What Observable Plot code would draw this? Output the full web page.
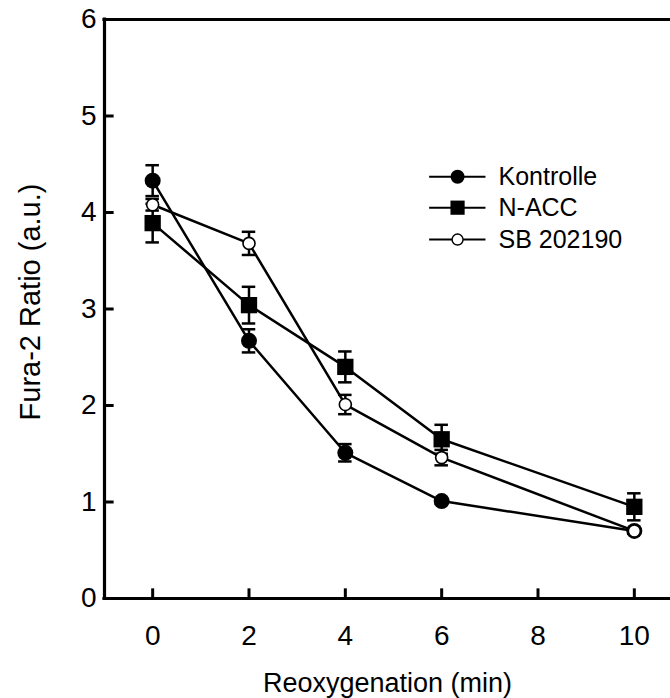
<!DOCTYPE html>
<html>
<head>
<meta charset="utf-8">
<script src="https://cdn.jsdelivr.net/npm/d3@7"></script>
<script src="https://cdn.jsdelivr.net/npm/@observablehq/plot@0.6"></script>
<style>
  html, body { margin: 0; padding: 0; background: #fff; overflow: hidden; }
  #chart svg { display: block; }
</style>
</head>
<body>
<div id="chart"></div>
<script>
// ---- data ----
const times = [0, 2, 4, 6, 10];
const seriesNames = ["Kontrolle", "N-ACC", "SB 202190"];
const kontrolle = [4.33, 2.67, 1.51, 1.01, 0.70];
const kontrolleErr = [0.16, 0.12, 0.09, 0.03, 0.02];
const nacc = [3.89, 3.04, 2.40, 1.65, 0.95];
const naccErr = [0.20, 0.19, 0.16, 0.15, 0.14];
const sb = [4.08, 3.68, 2.01, 1.46, 0.70];
const sbErr = [0.06, 0.12, 0.10, 0.08, 0.03];
const xTicks = [0, 2, 4, 6, 8, 10];
const yTicks = [0, 1, 2, 3, 4, 5, 6];
const xLabel = "Reoxygenation (min)";
const yLabel = "Fura-2 Ratio (a.u.)";

const values = [kontrolle, nacc, sb];
const errs = [kontrolleErr, naccErr, sbErr];
const rows = seriesNames.flatMap((s, i) =>
  times.map((t, j) => ({series: s, x: t, v: values[i][j], e: errs[i][j]})));

// marker styles per series
const style = {
  "Kontrolle": {symbol: "circle", r: 8, fill: "black", lr: 7},
  "N-ACC": {symbol: "square", r: 9.2, fill: "black", lr: 8},
  "SB 202190": {symbol: "circle", r: 6, fill: "white", lr: 5.5}
};

// legend placement (data units)
const legX1 = 5.75, legX2 = 6.92, legMid = 6.33, legText = 7.18;
const legY = [4.37, 4.05, 3.72];
const legRows = seriesNames.map((s, i) => ({series: s, y: legY[i]}));

const font = "Liberation Sans, Arial, Helvetica, sans-serif";
const fs = 27;
const cap = 0.14;

const markerMarks = seriesNames.flatMap(s => {
  const st = style[s];
  return [
    Plot.dot(rows.filter(d => d.series === s), {
      x: "x", y: "v", r: st.r, symbol: st.symbol, fill: st.fill,
      stroke: "black", strokeWidth: st.fill === "white" ? 1.6 : 0
    }),
    Plot.dot(legRows.filter(d => d.series === s), {
      x: () => legMid, y: "y", r: st.lr, symbol: st.symbol, fill: st.fill,
      stroke: "black", strokeWidth: st.fill === "white" ? 1.4 : 0
    })
  ];
});

const chart = Plot.plot({
  width: 670,
  height: 698,
  marginLeft: 104,
  marginRight: 0,
  marginTop: 19,
  marginBottom: 100,
  style: {background: "white", fontFamily: font},
  x: {domain: [-1, 11], range: [104, 682], axis: null},
  y: {domain: [0, 6], range: [598, 19], axis: null},
  marks: [
    // frame (left, bottom, top)
    Plot.ruleX([-1], {stroke: "black", strokeWidth: 3.2, strokeLinecap: "square"}),
    Plot.ruleY([0, 6], {stroke: "black", strokeWidth: 3.2, strokeLinecap: "square"}),
    // inward ticks
    Plot.ruleY(yTicks.filter(t => t > 0 && t < 6), {y: d => d, x1: -1, x2: -0.8, stroke: "black", strokeWidth: 3}),
    Plot.ruleX(xTicks, {x: d => d, y1: 0, y2: 0.1, stroke: "black", strokeWidth: 3}),
    // tick labels
    Plot.text(yTicks, {x: -1, y: d => d, text: d => String(d), dx: -8, textAnchor: "end", lineAnchor: "middle", fontSize: 28, fill: "black"}),
    Plot.text(xTicks, {x: d => d, y: 0, text: d => String(d), dy: 38, textAnchor: "middle", lineAnchor: "middle", fontSize: 28, fill: "black"}),
    // axis titles
    Plot.text([xLabel], {frameAnchor: "bottom", text: d => d, dy: 85, textAnchor: "middle", lineAnchor: "middle", fontSize: fs, fill: "black"}),
    Plot.text([yLabel], {frameAnchor: "left", text: d => d, dx: -74, dy: -7, rotate: -90, textAnchor: "middle", lineAnchor: "middle", fontSize: 29, fill: "black"}),
    // lines
    Plot.line(rows, {x: "x", y: "v", z: "series", stroke: "black", strokeWidth: 2.5}),
    // error bars
    Plot.ruleX(rows, {x: "x", y1: d => d.v - d.e, y2: d => d.v + d.e, stroke: "black", strokeWidth: 2.5}),
    Plot.ruleY(rows, {y: d => d.v + d.e, x1: d => d.x - cap, x2: d => d.x + cap, stroke: "black", strokeWidth: 2.5}),
    Plot.ruleY(rows, {y: d => d.v - d.e, x1: d => d.x - cap, x2: d => d.x + cap, stroke: "black", strokeWidth: 2.5}),
    // legend lines and labels
    Plot.ruleY(legRows, {y: "y", x1: () => legX1, x2: () => legX2, stroke: "black", strokeWidth: 2}),
    Plot.text(legRows, {x: () => legText, y: "y", text: "series", textAnchor: "start", lineAnchor: "middle", fontSize: 25, fill: "black"}),
    ...markerMarks
  ]
});
document.getElementById("chart").appendChild(chart);
</script>
</body>
</html>
